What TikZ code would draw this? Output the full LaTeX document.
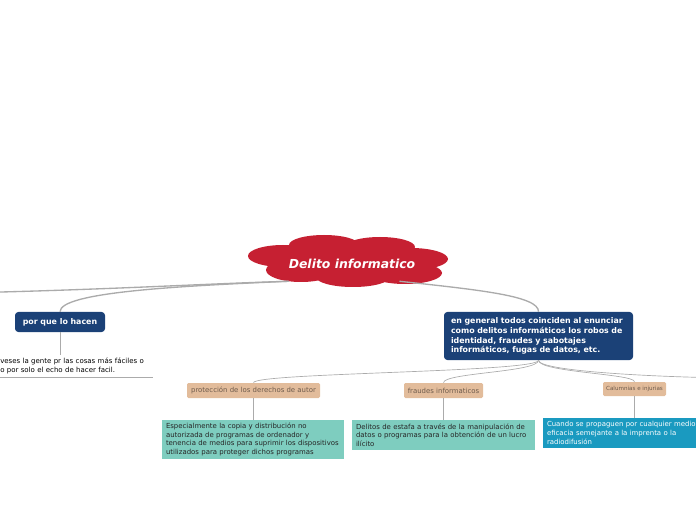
\documentclass[tikz,border=0pt]{standalone}
\usepackage{fontspec}
\setmainfont{DejaVu Sans}
\definecolor{cloudred}{HTML}{C62032}
\definecolor{navy}{HTML}{1B4177}
\definecolor{tan}{HTML}{E2BC9B}
\definecolor{tantext}{HTML}{6E5B4C}
\definecolor{sea}{HTML}{7ECDBF}
\definecolor{ocean}{HTML}{1A9AC0}
\definecolor{wiregrey}{HTML}{ABABAB}

\begin{document}
\begin{tikzpicture}[x=.75pt,y=-.75pt,
  navybox/.style={fill=navy,text=white,rounded corners=2.5pt,inner sep=0pt,font=\fontsize{5.9}{7.3}\selectfont\bfseries},
  tanbox/.style={fill=tan,text=tantext,rounded corners=1pt,inner sep=0pt,minimum height=11.25pt,font=\fontsize{5.2}{6}\selectfont},
  seabox/.style={fill=sea,text=black!85,inner xsep=3pt,inner ysep=0pt,align=left,font=\fontsize{5.2}{6.4}\selectfont},
  wire/.style={draw=wiregrey,line width=.5pt},
  mainwire/.style={draw=wiregrey,line width=1pt}]
\useasboundingbox (0,0) rectangle (696,520);
% centre cloud
\fill[cloudred] (350,262) ellipse (80 and 16)
  (283,256) ellipse (35 and 11) (324,245) ellipse (35 and 10) (380,247) ellipse (35 and 10)
  (411,259) ellipse (37 and 11) (405,273) ellipse (37 and 11) (353,277) ellipse (37 and 10)
  (301,270) ellipse (35 and 12);
\node[text=white,minimum width=90pt,minimum height=25.5pt,inner sep=0pt,font=\fontsize{9.3}{11}\selectfont\bfseries\itshape] (dl) at (352,264){Delito informatico};
% left branch
\node[navybox,minimum width=67.5pt,minimum height=15pt] (why) at (60,322){por que lo hacen};
\node[anchor=south west,inner xsep=0pt,inner ysep=2pt,text width=114pt,align=left,font=\fontsize{5.25}{6.75}\selectfont] (whytxt) at (0,377){veses la gente pr las cosas más fáciles o\\o por solo el echo de hacer facil.};
\coordinate (offl) at (-40,293);
% right branch
\node[navybox,minimum width=141.75pt,minimum height=36pt,text width=131.25pt,inner xsep=5.25pt,align=left] (gen) at (538.5,336){en general todos coinciden al enunciar\\como delitos informáticos los robos de\\identidad, fraudes y sabotajes\\informáticos, fugas de datos, etc.};
\node[tanbox,minimum width=99.75pt] (prot) at (253.5,390.5){protección de los derechos de autor};
\node[tanbox,minimum width=59.25pt] (fraud) at (443.5,390.5){fraudes informaticos};
\node[tanbox,minimum width=47.25pt,minimum height=10.5pt,font=\fontsize{4.2}{5}\selectfont] (calum) at (634.5,389){Calumnias e injurias};
\coordinate (offr) at (740,378);
\node[seabox,text width=130.5pt,minimum height=29.25pt] (esp) at (253,439.5){Especialmente la copia y distribución no\\autorizada de programas de ordenador y\\tenencia de medios para suprimir los dispositivos\\utilizados para proteger dichos programas};
\node[seabox,text width=131.25pt,minimum height=22.5pt] (est) at (443.5,435){Delitos de estafa a través de la manipulación de\\datos o programas para la obtención de un lucro\\ilícito};
\node[seabox,fill=ocean,text=white,text width=130.5pt,minimum height=22.5pt,font=\fontsize{5.2}{6.75}\selectfont] (cuan) at (634,433){Cuando se propaguen por cualquier medio\\eficacia semejante a la imprenta o la\\radiodifusión};
% links
\draw[mainwire] (dl.south west) .. controls (200,284) and (100,290) .. (offl);
\draw[mainwire] (dl.south west) .. controls (180,286) and (60,292) .. (why.north);
\draw[mainwire] (dl.-20) .. controls (480,290) and (539,296) .. (gen.north);
\draw[wire] (why.south) -- (why.south |- whytxt.north);
\draw[wire] (whytxt.south west) -- (whytxt.south east);
\draw[wire] (gen.south) .. controls +(0,12) and +(0,-10) .. (prot.north);
\draw[wire] (gen.south) .. controls +(0,12) and +(0,-10) .. (fraud.north);
\draw[wire] (gen.south) .. controls +(0,12) and +(0,-8) .. (calum.north);
\draw[wire] (gen.south) .. controls +(0,12) and +(-60,0) .. (offr);
\draw[wire] (prot.south) -- (prot.south |- esp.north);
\draw[wire] (fraud.south) -- (fraud.south |- est.north);
\draw[wire] (calum.south) -- (calum.south |- cuan.north);
\end{tikzpicture}
\end{document}
